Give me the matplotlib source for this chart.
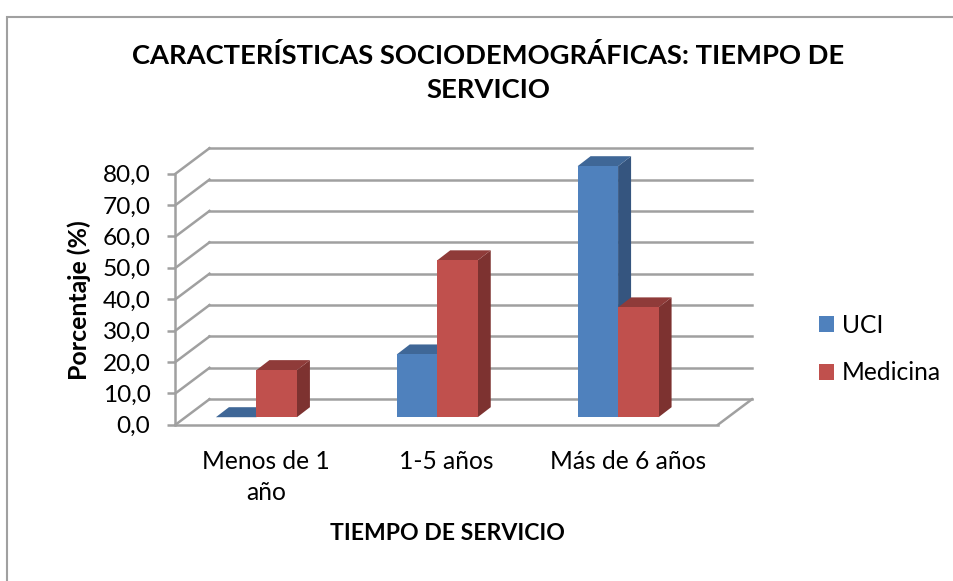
# tiempo de servicio - 3D style column chart
import matplotlib
matplotlib.use('Agg')
import matplotlib.pyplot as plt
from matplotlib.patches import Polygon, Patch, Rectangle

plt.rcParams['font.family'] = ['Lato', 'DejaVu Sans']

categorias = ['Menos de 1\naño', '1-5 años', 'Más de 6 años']
uci = [0.0, 20.0, 80.0]
medicina = [15.0, 50.0, 35.0]
yticks = [0, 10, 20, 30, 40, 50, 60, 70, 80]

W, H = 954, 581
fig = plt.figure(figsize=(W / 100, H / 100), dpi=100)

# frame of the chart object, runs off right and bottom
fig.add_artist(Rectangle((7 / W, -0.1), 1.1, 1.1 - 17 / H, transform=fig.transFigure,
                         fill=False, ec='#a0a0a0', lw=1.5))

left, right, top, bottom = 175.5, 718, 173.7, 424.7
ax = fig.add_axes([left / W, 1 - bottom / H, (right - left) / W, (bottom - top) / H])
ax.set_xlim(-0.5, 2.5)
ax.set_ylim(0, 80)
ax.patch.set_visible(False)

px_x = (right - left) / 3
px_y = (bottom - top) / 80
grid = '#a0a0a0'
lw = 1.8

# walls: depth offset in data units
dx = 34 / px_x
dy = 25.5 / px_y
for v in yticks:
    ax.plot([-0.5, -0.5 + dx], [v, v + dy], color=grid, lw=lw, clip_on=False, zorder=1)
    ax.plot([-0.5 + dx, 2.5 + dx], [v + dy, v + dy], color=grid, lw=lw, clip_on=False, zorder=1)
ax.plot([2.5, 2.5 + dx], [0, dy], color=grid, lw=lw, clip_on=False, zorder=1)

# bars
bw = 40.5 / px_x
shift = -9.5 / px_x
base = 7.5 / px_y
bar_dx = 13 / px_x
bar_dy = 10 / px_y


def column(xc, val, front, topc, side, z):
    x0 = xc - bw / 2
    x1 = xc + bw / 2
    y1 = base + val
    ax.add_patch(Polygon([(x1, base), (x1 + bar_dx, base + bar_dy),
                          (x1 + bar_dx, y1 + bar_dy), (x1, y1)],
                         fc=side, ec='none', clip_on=False, zorder=z))
    ax.add_patch(Polygon([(x0, y1), (x0 + bar_dx, y1 + bar_dy),
                          (x1 + bar_dx, y1 + bar_dy), (x1, y1)],
                         fc=topc, ec='none', clip_on=False, zorder=z))
    ax.bar(xc, val, bottom=base, width=bw, color=front, clip_on=False, zorder=z)


for i in range(len(categorias)):
    column(i + shift - bw / 2, uci[i], '#4f81bd', '#3f6797', '#35557f', 3 + i)
    column(i + shift + bw / 2, medicina[i], '#c0504d', '#8f3b39', '#7d3230', 3.5 + i)

for s in ['top', 'right']:
    ax.spines[s].set_visible(False)
for s in ['left', 'bottom']:
    ax.spines[s].set_color(grid)
    ax.spines[s].set_linewidth(lw)

ax.set_yticks(yticks)
ax.set_yticklabels([('%.1f' % v).replace('.', ',') for v in yticks])
ax.tick_params(axis='y', length=6, width=lw, color=grid, labelsize=17.6, pad=12)
ax.set_xticks(range(len(categorias)))
ax.set_xticklabels(categorias, fontsize=17.7, linespacing=1.43)
ax.tick_params(axis='x', length=0, pad=18)

fig.text(488 / W, 1 - 55 / H, 'CARACTERÍSTICAS SOCIODEMOGRÁFICAS: TIEMPO DE',
         ha='center', va='center', fontsize=19.7, fontweight='bold')
fig.text(488 / W, 1 - 90 / H, 'SERVICIO', ha='center', va='center',
         fontsize=19.7, fontweight='bold')
fig.text(79 / W, 1 - 300.5 / H, 'Porcentaje (%)', rotation=90, ha='center', va='center',
         fontsize=17.9, fontweight='bold')
fig.text(447 / W, 1 - 533 / H, 'TIEMPO DE SERVICIO', ha='center', va='center',
         fontsize=16.6, fontweight='bold')

handles = [Patch(fc='#4f81bd', label='UCI'), Patch(fc='#c0504d', label='Medicina')]
fig.legend(handles=handles, loc='center left', bbox_to_anchor=(819 / W, 1 - 349 / H),
           frameon=False, fontsize=17.7, handlelength=0.61, handleheight=0.61,
           handletextpad=0.33, labelspacing=1.0, borderpad=0, borderaxespad=0)

fig.savefig('out.png', dpi=100, facecolor='white')
